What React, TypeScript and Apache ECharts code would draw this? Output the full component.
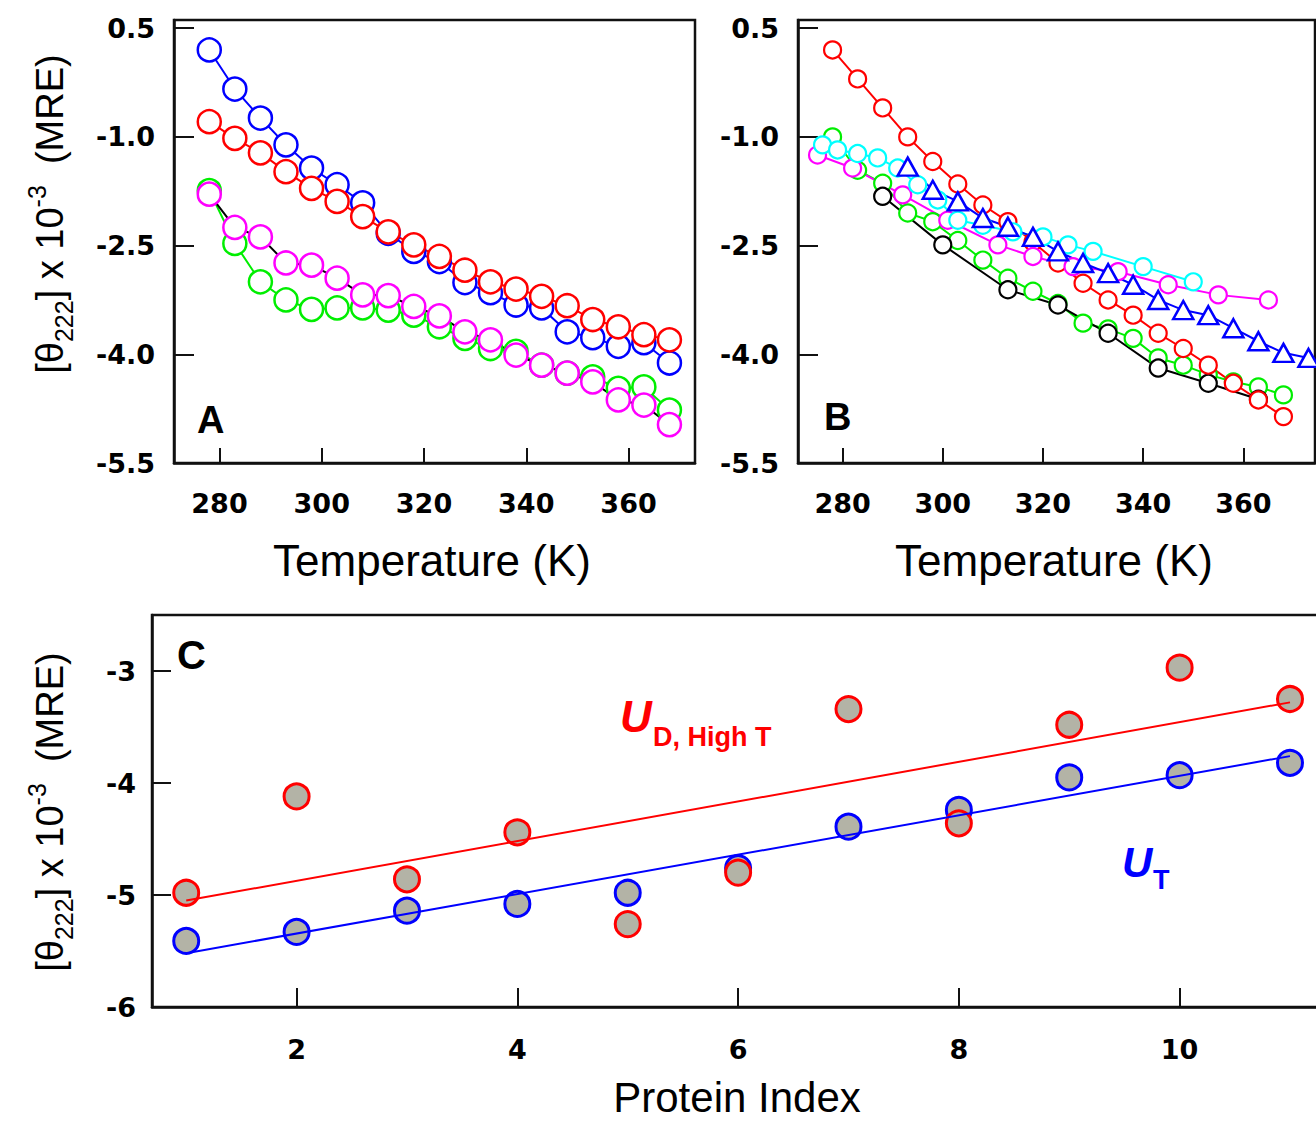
import React, { useEffect, useRef } from 'react';
import * as echarts from 'echarts';

// ---------- Panel A data ----------
const tempA = [278, 283, 288, 293, 298, 303, 308, 313, 318, 323, 328, 333, 338, 343, 348, 353, 358, 363, 368];
const aBlue = [0.2, -0.34, -0.74, -1.11, -1.43, -1.66, -1.91, -2.33, -2.58, -2.72, -3.01, -3.15, -3.32, -3.36, -3.69, -3.77, -3.89, -3.84, -4.12];
const aRed = [-0.79, -1.02, -1.22, -1.48, -1.71, -1.89, -2.1, -2.31, -2.49, -2.65, -2.84, -3.0, -3.1, -3.2, -3.33, -3.52, -3.62, -3.73, -3.8];
const aGreen = [-1.74, -2.47, -3.0, -3.25, -3.38, -3.36, -3.36, -3.39, -3.46, -3.62, -3.78, -3.92, -3.96, -4.15, -4.26, -4.31, -4.47, -4.45, -4.77];
const aMagenta = [-1.79, -2.25, -2.38, -2.74, -2.77, -2.95, -3.18, -3.19, -3.34, -3.47, -3.69, -3.8, -4.01, -4.15, -4.26, -4.38, -4.63, -4.7, -4.97];

// ---------- Panel B data ----------
const tempBRed = [278, 283, 288, 293, 298, 303, 308, 313, 318, 323, 328, 333, 338, 343, 348, 353, 358, 363, 368];
const bRed = [0.2, -0.2, -0.6, -1.0, -1.34, -1.65, -1.94, -2.17, -2.45, -2.74, -3.02, -3.25, -3.46, -3.71, -3.92, -4.15, -4.4, -4.63, -4.86];
const tempBGreen = [278, 283, 288, 293, 298, 303, 308, 313, 318, 323, 328, 333, 338, 343, 348, 353, 358, 363, 368];
const bGreen = [-1.0, -1.46, -1.64, -2.05, -2.17, -2.43, -2.7, -2.95, -3.13, -3.3, -3.57, -3.65, -3.78, -4.05, -4.15, -4.28, -4.38, -4.45, -4.56];
const tempBBlack = [288, 300, 313, 323, 333, 343, 353, 363];
const bBlack = [-1.82, -2.49, -3.11, -3.32, -3.71, -4.19, -4.4, -4.62];
const tempBMagenta = [275, 282, 292, 301, 311, 318, 326, 335, 345, 355, 365];
const bMagenta = [-1.25, -1.43, -1.8, -2.15, -2.49, -2.65, -2.79, -2.86, -3.04, -3.18, -3.25];
const tempBCyan = [276, 279, 283, 287, 291, 295, 299, 303, 308, 314, 320, 325, 330, 340, 350];
const bCyan = [-1.11, -1.18, -1.23, -1.29, -1.43, -1.66, -1.87, -2.15, -2.22, -2.31, -2.38, -2.49, -2.58, -2.79, -3.0];
const tempBTri = [293, 298, 303, 308, 313, 318, 323, 328, 333, 338, 343, 348, 353, 358, 363, 368, 373];
const bTri = [-1.41, -1.73, -1.89, -2.12, -2.24, -2.38, -2.58, -2.74, -2.88, -3.04, -3.25, -3.39, -3.46, -3.64, -3.82, -3.98, -4.05];

// ---------- Panel C data ----------
const proteinIndex = [1, 2, 3, 4, 5, 6, 7, 8, 9, 10, 11];
const cHighT = [-4.98, -4.12, -4.86, -4.44, -5.26, -4.8, -3.34, -4.36, -3.48, -2.97, -3.25];
const cUT = [-5.41, -5.33, -5.14, -5.08, -4.98, -4.76, -4.39, -4.24, -3.95, -3.93, -3.82];
const fitHighTX = [1, 11];
const fitHighTY = [-5.05, -3.28];
const fitUTX = [1, 11];
const fitUTY = [-5.52, -3.76];

const zip = (xs: number[], ys: number[]) => xs.map((x, i) => [x, ys[i]]);

const TICK_FONT = { fontFamily: 'DejaVu Sans', fontWeight: 'bold' as const, fontSize: 27, color: '#000' };
const AXIS_COLOR = '#111';

function xAxisCfg(gridIndex: number, min: number, max: number, step: number, tickLen: number, margin: number) {
  return {
    type: 'value', gridIndex, min, max, minInterval: step, maxInterval: step,
    axisLine: { show: true, onZero: false, lineStyle: { color: AXIS_COLOR, width: 2.5 } },
    axisTick: { show: true, inside: true, length: tickLen, lineStyle: { color: AXIS_COLOR, width: 2 } },
    axisLabel: { ...TICK_FONT, margin, showMinLabel: false, showMaxLabel: false },
    splitLine: { show: false },
  };
}

function yAxisCfg(gridIndex: number, min: number, max: number, step: number, tickLen: number, margin: number, digits: number) {
  return {
    type: 'value', gridIndex, min, max, interval: step,
    axisLine: { show: true, onZero: false, lineStyle: { color: AXIS_COLOR, width: 2.5 } },
    axisTick: { show: true, inside: true, length: tickLen, lineStyle: { color: AXIS_COLOR, width: 2 } },
    axisLabel: { ...TICK_FONT, margin, showMaxLabel: false, formatter: (v: number) => v.toFixed(digits) },
    splitLine: { show: false },
  };
}

function circleSeries(axis: number, xs: number[], ys: number[], color: string, lineColor: string, size: number, bw: number, symbol = 'circle', symbolSize: any = null) {
  return {
    type: 'line', xAxisIndex: axis, yAxisIndex: axis, data: zip(xs, ys),
    symbol, symbolSize: symbolSize ?? size, showAllSymbol: true, silent: true,
    itemStyle: { color: '#fff', borderColor: color, borderWidth: bw },
    lineStyle: { color: lineColor, width: 2 },
    emphasis: { disabled: true },
  };
}

const GRID_BORDER = { show: true, borderColor: AXIS_COLOR, borderWidth: 2.5, backgroundColor: 'transparent' };

const TITLE_FONT = 'Liberation Sans, Arial, sans-serif';

function yTitle(x: number, y: number) {
  return {
    type: 'text', x, y, rotation: Math.PI / 2, silent: true,
    style: {
      text: '{m|[θ}{sub|222}{m|] x 10}{sup|-3}{m|  (MRE)}',
      align: 'center', verticalAlign: 'middle', textAlign: 'center', textVerticalAlign: 'middle',
      rich: {
        m: { fontSize: 38, fontFamily: TITLE_FONT, fill: '#000', color: '#000', lineHeight: 52, verticalAlign: 'middle' },
        sub: { fontSize: 25, fontFamily: TITLE_FONT, fill: '#000', color: '#000', lineHeight: 26, verticalAlign: 'bottom' },
        sup: { fontSize: 25, fontFamily: TITLE_FONT, fill: '#000', color: '#000', lineHeight: 26, verticalAlign: 'top' },
      },
    },
  };
}

function label(x: number, y: number, text: string, font: string, fill: string, align = 'left') {
  return {
    type: 'text', x, y, silent: true,
    style: { text, font, fill, align, verticalAlign: 'middle', textAlign: align, textVerticalAlign: 'middle' },
  };
}

export default function App() {
  const ref = useRef<HTMLDivElement>(null);
  useEffect(() => {
    const chart = echarts.init(ref.current!, null, { renderer: 'svg' });
    const option: any = {
      animation: false,
      backgroundColor: '#fff',
      grid: [
        { left: 174, top: 20, width: 521, height: 443, ...GRID_BORDER },
        { left: 798, top: 20, width: 517, height: 443, ...GRID_BORDER },
        { left: 152, top: 615, width: 1170, height: 392, ...GRID_BORDER },
      ],
      xAxis: [
        xAxisCfg(0, 271.1, 373, 20, 15, 27),
        xAxisCfg(1, 271.1, 374.3, 20, 15, 27),
        xAxisCfg(2, 0.69, 11.29, 2, 19, 29),
      ],
      yAxis: [
        yAxisCfg(0, -5.5, 0.613, 1.5, 20, 19, 1),
        yAxisCfg(1, -5.5, 0.613, 1.5, 20, 19, 1),
        yAxisCfg(2, -6, -2.5, 1, 19, 16, 0),
      ],
      series: [
        // Panel A
        circleSeries(0, tempA, aBlue, '#0000ff', '#0000ff', 23, 2.5),
        circleSeries(0, tempA, aRed, '#ff0000', '#ff0000', 23, 2.5),
        circleSeries(0, tempA, aGreen, '#00ee00', '#00ee00', 23, 2.5),
        circleSeries(0, tempA, aMagenta, '#ff00ff', '#000000', 23, 2.5),
        // Panel B
        circleSeries(1, tempBGreen, bGreen, '#00ee00', '#00ee00', 17, 2.2),
        circleSeries(1, tempBBlack, bBlack, '#000000', '#000000', 17, 2.2),
        circleSeries(1, tempBRed, bRed, '#ff0000', '#ff0000', 17, 2.2),
        circleSeries(1, tempBMagenta, bMagenta, '#ff00ff', '#ff00ff', 17, 2.2),
        circleSeries(1, tempBCyan, bCyan, '#00ffff', '#00ffff', 17, 2.2),
        circleSeries(1, tempBTri, bTri, '#0000ff', '#0000ff', 19, 2.5, 'triangle', [20, 18]),
        // Panel C
        {
          type: 'line', xAxisIndex: 2, yAxisIndex: 2, data: zip(fitHighTX, fitHighTY), symbol: 'none', silent: true,
          lineStyle: { color: '#ff0000', width: 2 },
        },
        {
          type: 'line', xAxisIndex: 2, yAxisIndex: 2, data: zip(fitUTX, fitUTY), symbol: 'none', silent: true,
          lineStyle: { color: '#0000ff', width: 2 },
        },
        {
          type: 'scatter', xAxisIndex: 2, yAxisIndex: 2, data: zip(proteinIndex, cUT), symbol: 'circle', symbolSize: 25, silent: true,
          itemStyle: { color: '#b3b3a6', borderColor: '#0000ff', borderWidth: 3, opacity: 1 },
        },
        {
          type: 'scatter', xAxisIndex: 2, yAxisIndex: 2, data: zip(proteinIndex, cHighT), symbol: 'circle', symbolSize: 25, silent: true,
          itemStyle: { color: '#b3b3a6', borderColor: '#ff0000', borderWidth: 3, opacity: 1 },
        },
      ],
      graphic: [
        yTitle(50, 214),
        yTitle(50, 812),
        label(432, 560, 'Temperature (K)', `44px ${TITLE_FONT}`, '#000', 'center'),
        label(1054, 560, 'Temperature (K)', `44px ${TITLE_FONT}`, '#000', 'center'),
        label(737, 1097, 'Protein Index', `42px ${TITLE_FONT}`, '#000', 'center'),
        label(197, 420, 'A', `bold 38px ${TITLE_FONT}`, '#000'),
        label(824, 417, 'B', `bold 38px ${TITLE_FONT}`, '#000'),
        label(177, 655, 'C', `bold 40px ${TITLE_FONT}`, '#000'),
        label(620, 716, 'U', `italic bold 44px ${TITLE_FONT}`, '#ff0000'),
        label(653, 737, 'D, High T', `bold 27px ${TITLE_FONT}`, '#ff0000'),
        label(1122, 862, 'U', `italic bold 42px ${TITLE_FONT}`, '#0000ff'),
        label(1153, 880, 'T', `bold 27px ${TITLE_FONT}`, '#0000ff'),
      ],
    };
    chart.setOption(option);
    return () => chart.dispose();
  }, []);
  return (
    <div style={{ position: 'absolute', left: 0, top: 0, width: 1316, height: 1121, overflow: 'hidden', background: '#fff' }}>
      <div ref={ref} style={{ width: 1400, height: 1121 }} />
    </div>
  );
}
